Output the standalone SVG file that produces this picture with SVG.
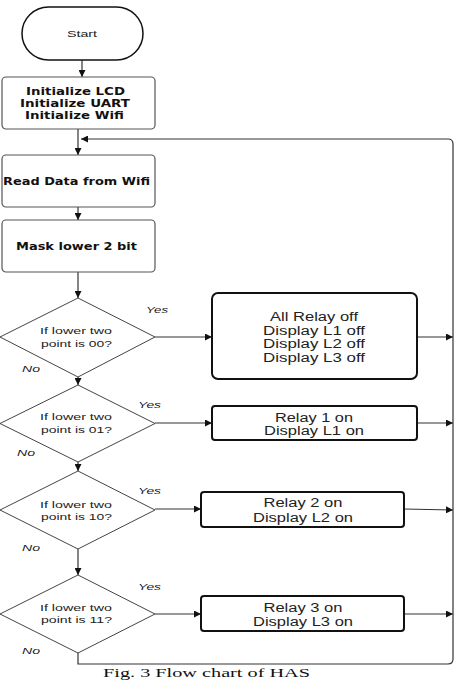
<svg xmlns="http://www.w3.org/2000/svg" width="464" height="680" viewBox="0 0 464 680">
<style>
.proc{fill:#fff;stroke:#555;stroke-width:1.2}
.act{fill:#fff;stroke:#111;stroke-width:2}
.dec{fill:#fff;stroke:#444;stroke-width:1}
.ln{fill:none;stroke:#333;stroke-width:1.2}
.b{font-family:"DejaVu Sans",Verdana,sans-serif;font-weight:bold;font-size:10px;fill:#111;text-anchor:middle}
.t{font-family:"Liberation Sans",Arial,sans-serif;font-size:12.5px;fill:#222;text-anchor:middle}
.d{font-family:"Liberation Sans",Arial,sans-serif;font-size:9.5px;fill:#222;text-anchor:middle}
.yn{font-family:"Liberation Sans",Arial,sans-serif;font-size:9.5px;font-style:italic;fill:#222}
.cap{font-family:"Liberation Serif","Times New Roman",serif;font-size:11.5px;fill:#111}
</style>
<defs>
<marker id="ah" viewBox="0 0 10 10" refX="10" refY="5" markerWidth="7" markerHeight="7" markerUnits="userSpaceOnUse" orient="auto">
<path d="M0,0 L10,5 L0,10 z" fill="#111"/>
</marker>
</defs>

<g id="connectors">
<line class="ln" x1="82" y1="60" x2="82" y2="77" marker-end="url(#ah)"/>
<line class="ln" x1="78" y1="129" x2="78" y2="155" marker-end="url(#ah)"/>
<line class="ln" x1="78" y1="207" x2="78" y2="220" marker-end="url(#ah)"/>
<line class="ln" x1="78" y1="272" x2="78" y2="298" marker-end="url(#ah)"/>
<line class="ln" x1="78" y1="377" x2="78" y2="385" marker-end="url(#ah)"/>
<line class="ln" x1="78" y1="462" x2="78" y2="471" marker-end="url(#ah)"/>
<line class="ln" x1="78" y1="549" x2="78" y2="575" marker-end="url(#ah)"/>
<line class="ln" x1="155" y1="337" x2="212" y2="337" marker-end="url(#ah)"/>
<line class="ln" x1="155" y1="423" x2="212" y2="423" marker-end="url(#ah)"/>
<line class="ln" x1="155" y1="509" x2="201" y2="509" marker-end="url(#ah)"/>
<line class="ln" x1="155" y1="614" x2="201" y2="614" marker-end="url(#ah)"/>
<line class="ln" x1="417" y1="337" x2="453" y2="337" marker-end="url(#ah)"/>
<line class="ln" x1="417" y1="423" x2="453" y2="423" marker-end="url(#ah)"/>
<line class="ln" x1="404" y1="509" x2="453" y2="510" marker-end="url(#ah)"/>
<line class="ln" x1="404" y1="614" x2="453" y2="614" marker-end="url(#ah)"/>
<path class="ln" d="M78,652 L78,664 L448,664 Q453,664 453,659 L453,144 Q453,139 448,139 L81,139" marker-end="url(#ah)"/>
</g>

<g id="start">
<rect x="22" y="7" width="121" height="53" rx="26.5" ry="26.5" fill="#fff" stroke="#111" stroke-width="1.5"/>
<text class="d" x="82" y="37" font-size="10" textLength="30" lengthAdjust="spacingAndGlyphs">Start</text>
</g>

<g id="init">
<rect class="proc" x="2" y="77" width="153" height="52" rx="4"/>
<text class="b" x="75.5" y="95" textLength="99" lengthAdjust="spacingAndGlyphs">Initialize LCD</text>
<text class="b" x="75" y="107" textLength="110" lengthAdjust="spacingAndGlyphs">Initialize UART</text>
<text class="b" x="74.5" y="119" textLength="99" lengthAdjust="spacingAndGlyphs">Initialize Wifi</text>
</g>

<g id="read">
<rect class="proc" x="2" y="155" width="153" height="52" rx="4"/>
<text class="b" x="76.5" y="185" textLength="147" lengthAdjust="spacingAndGlyphs">Read Data from Wifi</text>
</g>

<g id="mask">
<rect class="proc" x="2" y="220" width="153" height="52" rx="4"/>
<text class="b" x="76.5" y="250" textLength="121" lengthAdjust="spacingAndGlyphs">Mask lower 2 bit</text>
</g>

<g id="dec00">
<polygon class="dec" points="78,298 155,337 78,377 0,337"/>
<text class="d" x="76" y="334" textLength="72" lengthAdjust="spacingAndGlyphs">If lower two</text>
<text class="d" x="76.5" y="347" textLength="71" lengthAdjust="spacingAndGlyphs">point is 00?</text>
<text class="yn" x="146" y="313" textLength="22" lengthAdjust="spacingAndGlyphs">Yes</text>
<text class="yn" x="22" y="372" textLength="18" lengthAdjust="spacingAndGlyphs">No</text>
</g>

<g id="dec01">
<polygon class="dec" points="78,385 155,423.5 78,462 0,423.5"/>
<text class="d" x="76" y="420" textLength="72" lengthAdjust="spacingAndGlyphs">If lower two</text>
<text class="d" x="76.5" y="433" textLength="71" lengthAdjust="spacingAndGlyphs">point is 01?</text>
<text class="yn" x="138" y="408" textLength="23" lengthAdjust="spacingAndGlyphs">Yes</text>
<text class="yn" x="17" y="456" textLength="18" lengthAdjust="spacingAndGlyphs">No</text>
</g>

<g id="dec10">
<polygon class="dec" points="78,471 155,510 78,549 0,510"/>
<text class="d" x="76" y="508" textLength="72" lengthAdjust="spacingAndGlyphs">If lower two</text>
<text class="d" x="76.5" y="520" textLength="71" lengthAdjust="spacingAndGlyphs">point is 10?</text>
<text class="yn" x="138" y="494" textLength="23" lengthAdjust="spacingAndGlyphs">Yes</text>
<text class="yn" x="22" y="551" textLength="18" lengthAdjust="spacingAndGlyphs">No</text>
</g>

<g id="dec11">
<polygon class="dec" points="78,575 155,614 78,653 0,614"/>
<text class="d" x="76" y="611" textLength="72" lengthAdjust="spacingAndGlyphs">If lower two</text>
<text class="d" x="76.5" y="623" textLength="71" lengthAdjust="spacingAndGlyphs">point is 11?</text>
<text class="yn" x="138" y="590" textLength="23" lengthAdjust="spacingAndGlyphs">Yes</text>
<text class="yn" x="22" y="654" textLength="18" lengthAdjust="spacingAndGlyphs">No</text>
</g>

<g id="alloff">
<rect class="act" x="212" y="293" width="205" height="86" rx="6"/>
<text class="t" x="314" y="321" textLength="88" lengthAdjust="spacingAndGlyphs">All Relay off</text>
<text class="t" x="314" y="335" textLength="102" lengthAdjust="spacingAndGlyphs">Display L1 off</text>
<text class="t" x="314" y="348" textLength="102" lengthAdjust="spacingAndGlyphs">Display L2 off</text>
<text class="t" x="314" y="362" textLength="102" lengthAdjust="spacingAndGlyphs">Display L3 off</text>
</g>

<g id="relay1">
<rect class="act" x="212" y="406" width="205" height="34" rx="3"/>
<text class="t" x="314" y="422" textLength="78" lengthAdjust="spacingAndGlyphs">Relay 1 on</text>
<text class="t" x="314" y="435" textLength="100" lengthAdjust="spacingAndGlyphs">Display L1 on</text>
</g>

<g id="relay2">
<rect class="act" x="201" y="492" width="203" height="35" rx="3"/>
<text class="t" x="303" y="507" textLength="79" lengthAdjust="spacingAndGlyphs">Relay 2 on</text>
<text class="t" x="303" y="522" textLength="100" lengthAdjust="spacingAndGlyphs">Display L2 on</text>
</g>

<g id="relay3">
<rect class="act" x="201" y="596" width="203" height="35" rx="3"/>
<text class="t" x="303" y="612" textLength="79" lengthAdjust="spacingAndGlyphs">Relay 3 on</text>
<text class="t" x="303" y="626" textLength="100" lengthAdjust="spacingAndGlyphs">Display L3 on</text>
</g>

<text class="cap" x="103" y="676.5" textLength="207" lengthAdjust="spacingAndGlyphs">Fig. 3 Flow chart of HAS</text>
</svg>
